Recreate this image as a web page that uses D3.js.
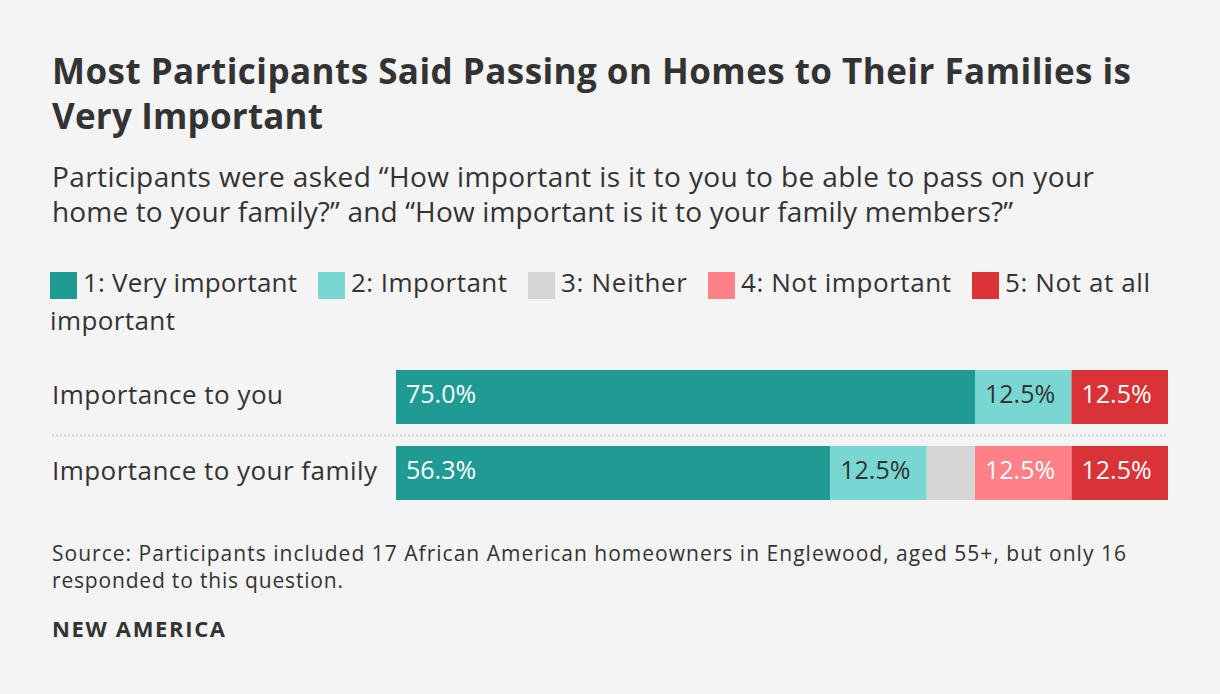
<!DOCTYPE html>
<html><head><meta charset="utf-8">
<script src="https://cdn.jsdelivr.net/npm/d3@7"></script>
<style>
html,body{margin:0;padding:0;background:#f4f4f4;}
svg{display:block;}
text{font-family:"Open Sans", "Noto Sans", sans-serif;fill:#333;}
</style></head>
<body>
<svg id="chart" width="1220" height="694"></svg>
<script>
const categories = ["Importance to you", "Importance to your family"];
const seriesNames = ["1: Very important", "2: Important", "3: Neither", "4: Not important", "5: Not at all important"];
const veryImportant = [75.0, 56.25];
const important = [12.5, 12.5];
const neither = [0, 6.25];
const notImportant = [0, 12.5];
const notAtAll = [12.5, 12.5];
const colors = ["#1f9b93", "#79d7d2", "#d6d6d6", "#ff8086", "#d93337"];
const labelColors = ["#fff", "#333", "#333", "#fff", "#fff"];

const svg = d3.select("#chart");
svg.append("rect").attr("width",1220).attr("height",694).attr("fill","#f4f4f4");

function fitText(sel, w){ sel.attr("textLength", w).attr("lengthAdjust","spacing"); return sel; }

// Title
const title = svg.append("g").attr("font-weight",700).attr("font-size",35);
fitText(title.append("text").attr("x",52).attr("y",84).text("Most Participants Said Passing on Homes to Their Families is"),1079);
fitText(title.append("text").attr("x",52).attr("y",129).text("Very Important"),271);

const sub = svg.append("g").attr("font-size",28);
fitText(sub.append("text").attr("x",52).attr("y",187).text("Participants were asked “How important is it to you to be able to pass on your"),1042);
fitText(sub.append("text").attr("x",52).attr("y",222).text("home to your family?” and “How important is it to your family members?”"),961);

// Legend
const legendX = [50, 318, 528, 708, 972];
const legendW = [214, 156, 126, 210, 145];
const lg = svg.append("g").attr("font-size",26);
seriesNames.forEach((name,i)=>{
  lg.append("rect").attr("x",legendX[i]).attr("y",272).attr("width",27).attr("height",27).attr("fill",colors[i]);
  const first = i===4 ? "5: Not at all" : name;
  fitText(lg.append("text").attr("x",legendX[i]+33).attr("y",292).text(first), legendW[i]);
});
fitText(lg.append("text").attr("x",50).attr("y",330).text("important"),125);

// Bars
const x = d3.scaleLinear().domain([0,100]).range([396,1168]);
const y = d3.scaleBand().domain(categories).range([359,511]).paddingInner(22/76).paddingOuter(11/76);
const series = [veryImportant, important, neither, notImportant, notAtAll];
const rows = categories.map((c,ci)=>{
  let acc = 0;
  return series.map((s,si)=>{ const d={cat:c, si, v:s[ci], x0:acc, x1:acc+s[ci]}; acc+=s[ci]; return d; });
});

svg.append("line").attr("x1",52).attr("x2",1168).attr("y1",435.5).attr("y2",435.5)
  .attr("stroke","#d2d2d2").attr("stroke-width",2).attr("stroke-dasharray","2,2");

const rowG = svg.selectAll("g.row").data(rows).join("g").attr("class","row");
rowG.selectAll("rect").data(d=>d.filter(e=>e.v>0)).join("rect")
  .attr("x",d=>x(d.x0)).attr("width",d=>x(d.x1)-x(d.x0))
  .attr("y",d=>y(d.cat)).attr("height",y.bandwidth())
  .attr("fill",d=>colors[d.si]);
rowG.selectAll("text.val").data(d=>d.filter(e=>e.v>=10)).join("text").attr("class","val")
  .attr("x",d=>x(d.x0)+10).attr("y",d=>y(d.cat)+y.bandwidth()/2+6)
  .attr("font-size",25).style("fill",d=>labelColors[d.si])
  .text(d=>d3.format(".1f")(d.v)+"%");

const catW = [231, 325];
svg.selectAll("text.cat").data(categories).join("text").attr("class","cat")
  .attr("x",52).attr("y",d=>y(d)+y.bandwidth()/2+7).attr("font-size",26)
  .attr("textLength",(d,i)=>catW[i]).attr("lengthAdjust","spacing").text(d=>d);

const src = svg.append("g").attr("font-size",21);
fitText(src.append("text").attr("x",52).attr("y",561).text("Source: Participants included 17 African American homeowners in Englewood, aged 55+, but only 16"),1074);
fitText(src.append("text").attr("x",52).attr("y",588).text("responded to this question."),291);
fitText(svg.append("text").attr("x",52).attr("y",637).attr("font-size",22).attr("font-weight",700).text("NEW AMERICA"),173);
</script>
</body></html>
